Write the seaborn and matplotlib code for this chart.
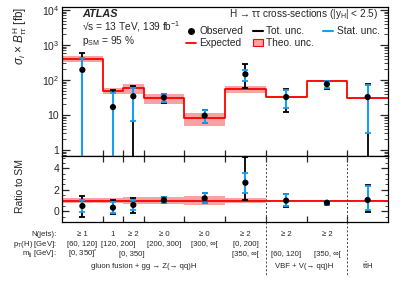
import numpy as np
import matplotlib
matplotlib.use("Agg")
import matplotlib.pyplot as plt
import matplotlib.transforms as mtransforms
from matplotlib.lines import Line2D
from matplotlib.patches import Patch
from matplotlib.ticker import LogLocator, MultipleLocator, NullFormatter, FuncFormatter, FixedLocator
import seaborn as sns

# bins (first bin drawn double width, bins 2-3 half width)
edges = [0, 1, 1.5, 2, 3, 4, 5, 6, 7, 8]
expected = [398, 49.5, 58, 30, 8.0, 55, 33, 95, 31]          # SM prediction [fb]
theo_unc = [0.20, 0.22, 0.33, 0.30, 0.40, 0.22, 0.05, 0.03, 0.06]  # relative

# ratio to SM with error bar ends
mu = [0.49, 0.34, 0.59, 1.05, 1.20, 2.66, 0.99, 0.80, 1.05]
tot_hi = [1.45, 1.05, 1.20, 1.36, 1.73, 5.08, 1.64, 1.00, 2.45]
tot_lo = [-0.56, -0.28, -0.13, 0.74, 0.74, 1.05, 0.37, 0.60, -0.03]
stat_hi = [1.05, 0.87, 1.05, 1.30, 1.70, 3.60, 1.60, 0.98, 2.35]
stat_lo = [-0.07, -0.13, 0.12, 0.80, 0.76, 1.67, 0.47, 0.62, 0.10]

# labels below the ratio panel: (x position, text)
njets_row = [(0.5, "≥ 1"), (1.25, "1"), (1.75, "≥ 2"), (2.5, "≥ 0"), (3.5, "≥ 0"),
             (4.5, "≥ 2"), (5.5, "≥ 2"), (6.5, "≥ 2")]
pt_row = [(0.5, "[60, 120]"), (1.38, "[120, 200]"), (2.5, "[200, 300]"),
          (3.5, "[300, ∞["), (4.5, "[0, 200]")]
mjj_row = [(0.52, "[0, 350]$^{*}$"), (1.72, "[0, 350]"), (4.5, "[350, ∞["),
           (5.5, "[60, 120]"), (6.5, "[350, ∞[")]
groups = [(2.0, "gluon fusion + gg → Z(→ qq)H"), (5.95, "VBF + V(→ qq)H"),
          (7.5, r"t$\bar{\mathrm{t}}$H")]
row_names = ["N(jets):", r"p$_{\mathrm{T}}$(H) [GeV]:", r"m$_{\mathrm{jj}}$ [GeV]:"]
group_edges = [5, 7]

red = "#ff0000"
band = "#f7a3a3"
blue = "#1a9cf0"

sns.set_theme(style="ticks", rc={"axes.linewidth": 0.9, "axes.edgecolor": "black"})
plt.rcParams["font.family"] = ["Liberation Sans", "DejaVu Sans"]
plt.rcParams["mathtext.fontset"] = "custom"
plt.rcParams["mathtext.rm"] = "Liberation Sans"
plt.rcParams["mathtext.it"] = "Liberation Sans:italic"
plt.rcParams["mathtext.bf"] = "Liberation Sans:bold"

edges = np.array(edges, dtype=float)
centers = 0.5 * (edges[:-1] + edges[1:])
exp_a = np.array(expected)
unc = np.array(theo_unc)
mu_a = np.array(mu)
obs = mu_a * exp_a

fig = plt.figure(figsize=(4.09, 2.95), dpi=100)
ax1 = fig.add_axes([0.1516, 0.4712, 0.7971, 0.5051])
ax2 = fig.add_axes([0.1516, 0.2475, 0.7971, 0.2237])

##### top panel: cross-sections #####
ax1.set_yscale("log")
ax1.fill_between(edges, np.append(exp_a * (1 - unc), exp_a[-1] * (1 - unc[-1])),
                 np.append(exp_a * (1 + unc), exp_a[-1] * (1 + unc[-1])),
                 step="post", color=band, lw=0, zorder=1)
sns.lineplot(x=edges, y=np.append(exp_a, exp_a[-1]), drawstyle="steps-post",
             color=red, lw=1.3, ax=ax1, legend=False, zorder=2)

for ax, y, scale in [(ax1, obs, exp_a), (ax2, mu_a, 1.0)]:
    if ax is ax1:
        tlo = np.clip(np.array(tot_lo) * scale, 1e-3, None)
        slo = np.clip(np.array(stat_lo) * scale, 1e-3, None)
    else:
        tlo = np.array(tot_lo)
        slo = np.array(stat_lo)
    thi = np.array(tot_hi) * scale
    shi = np.array(stat_hi) * scale
    ax.errorbar(centers, y, yerr=[y - tlo, thi - y], fmt="none", ecolor="black",
                elinewidth=1.3, capsize=2.2, capthick=1.3, zorder=3)
    ax.errorbar(centers, y, yerr=[y - slo, shi - y], fmt="none", ecolor=blue,
                elinewidth=1.5, capsize=2.2, capthick=1.3, zorder=4)
    sns.scatterplot(x=centers, y=y, color="black", s=20, edgecolor="none",
                    ax=ax, zorder=5, legend=False)

ax1.set_xlim(0, 8)
ax1.set_ylim(0.674, 1.22e4)
ax1.yaxis.set_major_locator(LogLocator(base=10, numticks=10))
ax1.yaxis.set_minor_locator(LogLocator(base=10, subs=np.arange(2, 10), numticks=20))
ax1.yaxis.set_minor_formatter(NullFormatter())


def logfmt(v, pos):
    e = int(round(np.log10(v)))
    if e == 0:
        return "1"
    if e == 1:
        return "10"
    return r"$10^{%d}$" % e


ax1.yaxis.set_major_formatter(FuncFormatter(logfmt))
ax1.xaxis.set_major_locator(FixedLocator(edges[1:-1]))
ax1.tick_params(axis="x", which="both", direction="in", bottom=True, top=False,
                labelbottom=False, length=4, width=0.9)
ax1.tick_params(axis="y", which="major", direction="in", left=True, right=True,
                length=6, width=0.9, labelsize=7.5, pad=2)
ax1.tick_params(axis="y", which="minor", direction="in", left=True, right=True,
                length=3, width=0.6)

ax1.text(0.061, 0.953, "ATLAS", transform=ax1.transAxes, fontsize=7.8,
         fontweight="bold", fontstyle="italic", va="center")
ax1.text(0.061, 0.866, "√s = 13 TeV, 139 fb$^{-1}$", transform=ax1.transAxes,
         fontsize=7.3, va="center")
ax1.text(0.061, 0.775, r"p$_{\mathrm{SM}}$ = 95 %", transform=ax1.transAxes,
         fontsize=7.3, va="center")
ax1.text(0.969, 0.95, r"H → ττ cross-sections (|y$_{\mathrm{H}}$| < 2.5)",
         transform=ax1.transAxes, fontsize=7.2, ha="right", va="center")

handles = [Line2D([], [], marker="o", ls="none", color="black", markersize=4),
           Line2D([], [], color=red, lw=1.3),
           Line2D([], [], color="black", lw=1.5),
           Patch(facecolor=band, edgecolor=red, lw=0.8),
           Line2D([], [], color=blue, lw=1.5)]
labels = ["Observed", "Expected", "Tot. unc.", "Theo. unc.", "Stat. unc."]
ax1.legend(handles, labels, ncol=3, loc="upper left", bbox_to_anchor=(0.38, 0.87),
           frameon=False, fontsize=7.3, handlelength=1.0, handletextpad=0.35,
           columnspacing=0.9, labelspacing=0.2, borderpad=0, borderaxespad=0)

##### bottom panel: ratio #####
ax2.fill_between(edges, np.append(1 - unc, 1 - unc[-1]), np.append(1 + unc, 1 + unc[-1]),
                 step="post", color=band, lw=0, zorder=1)
ax2.axhline(1, color=red, lw=1.3, zorder=2)
ax2.set_xlim(0, 8)
ax2.set_ylim(-1, 5.15)
ax2.yaxis.set_major_locator(MultipleLocator(2))
ax2.yaxis.set_minor_locator(MultipleLocator(0.5))
ax2.xaxis.set_major_locator(FixedLocator(edges[1:-1]))
ax2.tick_params(axis="x", which="both", direction="in", bottom=True, top=True,
                labelbottom=False, length=4, width=0.9)
ax2.tick_params(axis="y", which="major", direction="in", left=True, right=True,
                length=5, width=0.9, labelsize=7.5, pad=2)
ax2.tick_params(axis="y", which="minor", direction="in", left=True, right=True,
                length=2.5, width=0.6)

fig.text(20 / 409, 1 - 7 / 295, r"$\sigma_{i}$ × $B^{\mathrm{H}}_{\tau\tau}$ [fb]",
         rotation=90, ha="center", va="top", fontsize=8.5)
fig.text(20 / 409, 1 - 186 / 295, "Ratio to SM", rotation=90, ha="center",
         va="center", fontsize=7.5)

# table of bin definitions
fs = 5.6
trans = mtransforms.blended_transform_factory(ax2.transData, fig.transFigure)
row_y = [1 - 234 / 295, 1 - 244 / 295, 1 - 254 / 295]
for name, yy in zip(row_names, row_y):
    fig.text(57 / 409, yy, name, ha="right", va="center", fontsize=fs)
for row, yy in zip([njets_row, pt_row, mjj_row], row_y):
    for xx, txt in row:
        ax2.text(xx, yy, txt, transform=trans, ha="center", va="center", fontsize=fs)
for xx, txt in groups:
    ax2.text(xx, 1 - 266 / 295, txt, transform=trans, ha="center", va="center", fontsize=fs)
for xx in group_edges:
    ax2.plot([xx, xx], [1 - 156 / 295, 1 - 275 / 295], transform=trans, clip_on=False,
             color="#444444", lw=0.7, ls=(0, (2, 2)), zorder=6)

fig.savefig("out.png", dpi=100)
